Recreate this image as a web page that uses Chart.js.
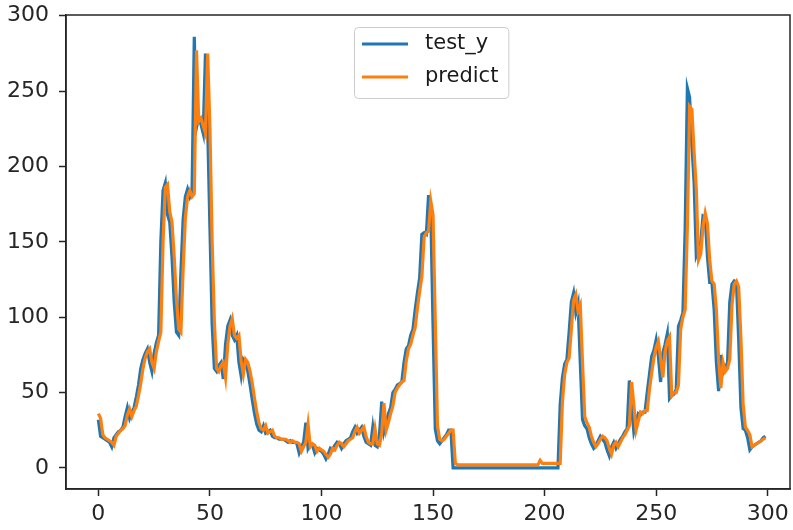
<!DOCTYPE html>
<html>
<head>
<meta charset="utf-8">
<script src="https://cdn.jsdelivr.net/npm/chart.js@4.4.1/dist/chart.umd.min.js"></script>
<style>
  body { margin: 0; background: #fff; }
  #wrap { width: 793px; height: 530px; }
</style>
</head>
<body>
<div id="wrap"><canvas id="testpredict"></canvas></div>
<script>
// values, one per time step
const testY = [
  32, 21, 20, 19, 18, 17, 14, 20, 22, 24,
  25, 27, 34, 40, 33, 37, 40, 47, 55, 66,
  72, 76, 79, 70, 64, 76, 83, 88, 150, 184,
  189, 168, 163, 140, 110, 90, 88, 130, 165, 180,
  185, 180, 184, 286, 226, 233, 228, 222, 275, 226,
  160, 95, 66, 64, 68, 70, 59, 82, 94, 98,
  88, 85, 88, 70, 61, 72, 70, 64, 55, 45,
  36, 29, 25, 24, 28, 23, 24, 25, 21, 20,
  20, 19, 19, 19, 18, 17, 18, 17, 17, 16,
  10, 14, 17, 30, 13, 16, 15, 10, 13, 12,
  11, 9, 6, 9, 13, 12, 15, 17, 16, 13,
  16, 18, 19, 20, 24, 27, 23, 25, 27, 21,
  17, 16, 15, 27, 15, 14, 22, 44, 24, 30,
  36, 40, 50, 52, 55, 56, 57, 70, 79, 81,
  88, 92, 105, 116, 126, 155, 156, 155, 181, 170,
  95, 26, 18, 16, 18, 20, 22, 25, 25, 0,
  0, 0, 0, 0, 0, 0, 0, 0, 0, 0,
  0, 0, 0, 0, 0, 0, 0, 0, 0, 0,
  0, 0, 0, 0, 0, 0, 0, 0, 0, 0,
  0, 0, 0, 0, 0, 0, 0, 0, 0, 0,
  0, 0, 0, 0, 0, 0, 0, 42, 60, 69,
  72, 90, 110, 116, 103, 109, 70, 32, 28, 26,
  20, 16, 13, 15, 18, 21, 19, 17, 12, 8,
  14, 17, 13, 16, 19, 21, 24, 26, 58, 40,
  24, 30, 36, 35, 37, 37, 50, 62, 74, 78,
  85, 74, 57, 76, 82, 89, 46, 48, 49, 52,
  94, 98, 103, 158, 252, 246, 215, 190, 141, 145,
  150, 167, 166, 140, 123, 123, 105, 70, 51, 75,
  63, 66, 70, 110, 122, 124, 123, 85, 40, 26,
  25, 20, 12, 14, 15, 16, 17, 18, 20, 21
];

const predict = [
  36, 33, 22, 20, 19, 18, 17, 15, 21, 23,
  25, 26, 28, 35, 39, 34, 38, 41, 48, 56,
  66, 73, 77, 79, 70, 66, 77, 84, 90, 150,
  186, 188, 170, 163, 140, 112, 92, 90, 132, 166,
  180, 184, 180, 182, 277, 230, 232, 227, 222, 275,
  226, 150, 97, 66, 64, 68, 70, 60, 82, 94,
  99, 88, 86, 88, 71, 62, 72, 70, 64, 56,
  46, 37, 30, 26, 25, 28, 23, 24, 25, 21,
  20, 20, 19, 19, 19, 18, 17, 18, 17, 17,
  16, 11, 14, 17, 29, 14, 16, 15, 11, 13,
  12, 11, 9, 7, 9, 13, 12, 15, 17, 16,
  14, 16, 18, 19, 20, 24, 27, 23, 25, 27,
  21, 17, 16, 16, 26, 16, 15, 23, 43, 25,
  30, 36, 41, 50, 53, 55, 57, 58, 71, 79,
  82, 88, 93, 106, 117, 127, 153, 156, 157, 177,
  168, 98, 28, 19, 18, 19, 21, 23, 25, 25,
  3, 2, 2, 2, 2, 2, 2, 2, 2, 2,
  2, 2, 2, 2, 2, 2, 2, 2, 2, 2,
  2, 2, 2, 2, 2, 2, 2, 2, 2, 2,
  2, 2, 2, 2, 2, 2, 2, 2, 5, 3,
  3, 3, 3, 3, 3, 3, 3, 3, 44, 62,
  70, 73, 92, 111, 115, 104, 108, 70, 34, 30,
  27, 21, 17, 14, 16, 19, 21, 20, 18, 13,
  9, 15, 17, 14, 17, 20, 22, 25, 28, 57,
  42, 25, 31, 37, 36, 38, 38, 52, 63, 73,
  80, 84, 73, 60, 77, 84, 87, 48, 50, 50,
  55, 92, 100, 105, 160, 240, 238, 210, 185, 138,
  142, 160, 169, 162, 138, 124, 122, 105, 72, 53,
  70, 64, 66, 72, 108, 122, 124, 120, 86, 42,
  27, 25, 22, 14, 15, 16, 17, 18, 19, 20
];

const xTicks = [0, 50, 100, 150, 200, 250, 300];
const yTicks = [0, 50, 100, 150, 200, 250, 300];

const ink = '#262626';

Chart.defaults.font.family = "'DejaVu Sans', sans-serif";
Chart.defaults.font.size = 22;
Chart.defaults.color = ink;

// box around the plot plus a matplotlib-style legend in the upper middle
const frameAndLegend = {
  id: 'frameAndLegend',
  afterDraw(chart) {
    const ctx = chart.ctx;
    const a = chart.chartArea;
    ctx.save();
    ctx.strokeStyle = ink;
    ctx.lineWidth = 1.5;
    ctx.strokeRect(a.left, a.top, a.right - a.left, a.bottom - a.top);

    ctx.font = "21px 'DejaVu Sans'";
    const items = chart.data.datasets;
    let textW = 0;
    items.forEach(function (ds) {
      textW = Math.max(textW, ctx.measureText(ds.label).width);
    });
    const boxW = 8 + 46 + 18 + textW + 9;
    const boxH = 71;
    const bx = 354;
    const by = a.top + 12;
    ctx.fillStyle = 'rgba(255,255,255,0.8)';
    ctx.strokeStyle = '#cccccc';
    ctx.lineWidth = 1;
    ctx.beginPath();
    ctx.roundRect(bx + 0.5, by + 0.5, boxW, boxH, 4);
    ctx.fill();
    ctx.stroke();

    items.forEach(function (ds, i) {
      const y = by + 17 + i * 33;
      ctx.strokeStyle = ds.borderColor;
      ctx.lineWidth = 3;
      ctx.beginPath();
      ctx.moveTo(bx + 8, y);
      ctx.lineTo(bx + 54, y);
      ctx.stroke();
      ctx.fillStyle = '#1a1a1a';
      ctx.textBaseline = 'middle';
      ctx.fillText(ds.label, bx + 71, y);
    });
    ctx.restore();
  }
};

new Chart(
  document.getElementById('testpredict'),
  {
    type: 'line',
    plugins: [frameAndLegend],
    data: {
      datasets: [
        {
          label: 'test_y',
          data: testY.map(function (v, i) { return { x: i, y: v }; }),
          borderColor: '#1f77b4',
          borderWidth: 3.2,
          pointRadius: 0,
          order: 1
        },
        {
          label: 'predict',
          data: predict.map(function (v, i) { return { x: i, y: v }; }),
          borderColor: '#ff7f0e',
          borderWidth: 3.2,
          pointRadius: 0,
          order: 0
        }
      ]
    },
    options: {
      responsive: true,
      maintainAspectRatio: false,
      animation: false,
      layout: { padding: { top: 15, right: 3, left: 0, bottom: 0 } },
      plugins: {
        legend: { display: false },
        tooltip: { enabled: false }
      },
      scales: {
        x: {
          type: 'linear',
          min: -14.5,
          max: 310,
          afterBuildTicks: function (axis) {
            axis.ticks = xTicks.map(function (v) { return { value: v }; });
          },
          afterFit: function (axis) {
            axis.height = 41;
            axis.paddingLeft = 0;
            axis.paddingRight = 0;
          },
          grid: { drawOnChartArea: false, tickLength: 7, tickWidth: 1.5, color: ink },
          border: { color: ink, width: 1.5 },
          ticks: { color: ink, font: { size: 22 }, padding: 5, maxRotation: 0, autoSkip: false }
        },
        y: {
          min: -14,
          max: 300.5,
          afterBuildTicks: function (axis) {
            axis.ticks = yTicks.map(function (v) { return { value: v }; });
          },
          afterFit: function (axis) {
            axis.width = 66;
            axis.paddingTop = 0;
            axis.paddingBottom = 0;
          },
          grid: { drawOnChartArea: false, tickLength: 7, tickWidth: 1.5, color: ink },
          border: { color: ink, width: 1.5 },
          ticks: { color: ink, font: { size: 22 }, padding: 10, autoSkip: false }
        }
      }
    }
  }
);
</script>
</body>
</html>
